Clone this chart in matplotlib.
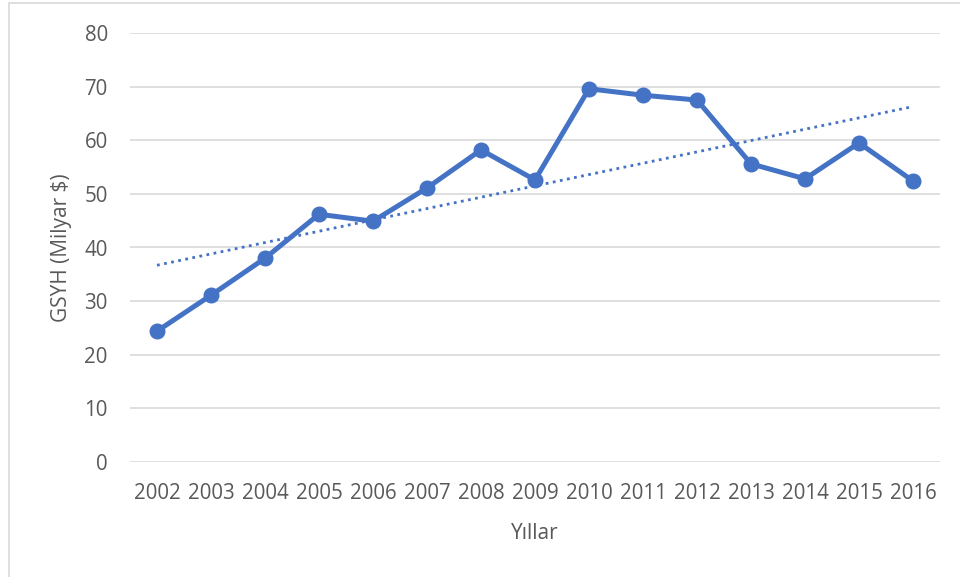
import numpy as np
import matplotlib.pyplot as plt
from matplotlib.patches import Rectangle

# Yillara gore GSYH (Milyar $)
years = ['2002', '2003', '2004', '2005', '2006', '2007', '2008', '2009',
         '2010', '2011', '2012', '2013', '2014', '2015', '2016']
gdp = [24.4, 31.1, 38.0, 46.2, 44.9, 51.1, 58.2, 52.6,
       69.6, 68.4, 67.5, 55.6, 52.8, 59.5, 52.4]

color = '#4472C4'
text_color = '#595959'
plt.rcParams['font.family'] = ['Open Sans', 'DejaVu Sans']

fig = plt.figure(figsize=(9.6, 5.77), dpi=100)
ax = fig.add_axes([130 / 960, 1 - 462 / 577, 810 / 960, 429 / 577])

x = np.arange(len(years))
ax.plot(x, gdp, color=color, linewidth=3.6, marker='o', markersize=10.5,
        solid_capstyle='round', zorder=3)

# linear trendline (Excel-style)
slope, intercept = np.polyfit(x, gdp, 1)
ax.plot(x, slope * x + intercept, color=color, linewidth=2, linestyle=(0, (1, 1.6)),
        zorder=2)

ax.set_xlim(-0.5, len(years) - 0.5)
ax.set_ylim(0, 80)
ax.set_yticks(np.arange(0, 81, 10))
ax.set_xticks(x)
ax.set_xticklabels(years)
ax.grid(axis='y', color='#d9d9d9', linewidth=1.2)
ax.set_axisbelow(True)
for s in ax.spines.values():
    s.set_visible(False)
ax.tick_params(axis='both', length=0, labelsize=14.8, labelcolor=text_color)
ax.tick_params(axis='x', pad=15)
ax.tick_params(axis='y', pad=16)

ax.set_xlabel('Yıllar', fontsize=15, color=text_color, labelpad=14)
ax.set_ylabel('GSYH (Milyar $)', fontsize=15, color=text_color, labelpad=9)

# chart border
fig.patches.append(Rectangle((9 / 960, -0.1), 1.2, 1 - 3 / 577 + 0.1,
                             transform=fig.transFigure, fill=False,
                             edgecolor='#d9d9d9', linewidth=1.2))

fig.savefig('out.png', dpi=100)
